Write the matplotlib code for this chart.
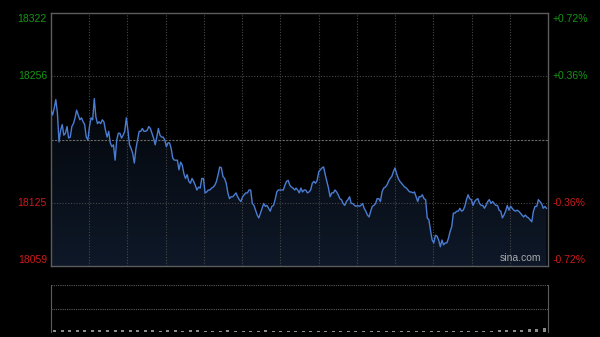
import numpy as np
import matplotlib
matplotlib.use("Agg")
import matplotlib.pyplot as plt
from matplotlib.patches import Polygon

# ---- data (index points) ----
prev_close = 18190.5
y_ticks = [18322, 18256, 18125, 18059]
y_labels = ["18322", "18256", "18125", "18059"]
pct_labels = ["+0.72%", "+0.36%", "-0.36%", "-0.72%"]
label_colors = ["#149614", "#149614", "#cc1a1a", "#cc1a1a"]

# time (minutes from open) at start/end of each read segment
seg_times = [(0.0, 83.0), (83.9, 161.8), (162.7, 243.5), (244.4, 329.0)]

seg1 = [18221, 18216, 18223, 18232, 18218, 18188, 18200, 18206, 18195, 18197,
        18204, 18192, 18193, 18204, 18207, 18213, 18221, 18216, 18211, 18213,
        18209, 18206, 18193, 18190, 18204, 18213, 18211, 18233, 18214, 18207,
        18209, 18207, 18211, 18209, 18200, 18193, 18199, 18187, 18183, 18185,
        18169, 18190, 18197, 18197, 18192, 18195, 18199, 18213, 18200, 18185,
        18181, 18176, 18166, 18181, 18190, 18199, 18199, 18202, 18199, 18199,
        18200, 18204, 18202, 18197, 18192, 18185, 18193, 18202, 18195, 18193,
        18193, 18190, 18183, 18187, 18187, 18181, 18171, 18169, 18169]
seg2 = [18169, 18159, 18167, 18164, 18155, 18150, 18154, 18147, 18145, 18150,
        18147, 18143, 18138, 18141, 18140, 18150, 18150, 18135, 18136, 18138,
        18138, 18140, 18141, 18143, 18147, 18154, 18162, 18161, 18152, 18150,
        18145, 18135, 18129, 18131, 18131, 18133, 18135, 18131, 18128, 18126,
        18131, 18133, 18135, 18135, 18138, 18138, 18124, 18122, 18117, 18112,
        18109, 18114, 18119, 18124, 18121, 18122, 18119, 18116, 18121, 18122,
        18128, 18136, 18138, 18138, 18138, 18138, 18143, 18147, 18148, 18143,
        18141, 18140, 18138]
seg3 = [18140, 18138, 18135, 18140, 18136, 18138, 18138, 18135, 18136, 18138,
        18145, 18147, 18145, 18148, 18157, 18159, 18161, 18162, 18154, 18147,
        18140, 18131, 18135, 18135, 18138, 18136, 18133, 18129, 18128, 18124,
        18122, 18126, 18128, 18131, 18124, 18124, 18122, 18121, 18122, 18121,
        18122, 18124, 18119, 18116, 18112, 18110, 18116, 18121, 18122, 18124,
        18129, 18129, 18126, 18136, 18140, 18141, 18143, 18147, 18150, 18152,
        18157, 18161, 18155, 18150, 18147, 18145, 18143, 18141, 18140, 18138,
        18136, 18136, 18135, 18136, 18131, 18126]
seg4 = [18131, 18131, 18133, 18129, 18128, 18109, 18107, 18096, 18086, 18083,
        18091, 18090, 18086, 18079, 18086, 18081, 18083, 18083, 18088, 18095,
        18100, 18114, 18114, 18116, 18116, 18119, 18116, 18117, 18121, 18128,
        18133, 18129, 18128, 18122, 18126, 18128, 18129, 18124, 18122, 18122,
        18119, 18122, 18126, 18128, 18124, 18126, 18124, 18122, 18122, 18117,
        18116, 18109, 18112, 18116, 18122, 18117, 18121, 18119, 18117, 18116,
        18117, 18116, 18114, 18112, 18110, 18112, 18110, 18109, 18107, 18105,
        18116, 18121, 18121, 18128, 18126, 18124, 18119, 18121, 18119]

volume = [3, 2, 3, 2, 2, 3, 2, 2, 3, 3, 2, 2, 2, 2, 1, 2, 2, 1, 2, 2,
          1, 1, 1, 2, 1, 1, 1, 1, 2, 1, 1, 1, 1, 1, 1, 1, 1, 1, 1, 1,
          1, 1, 1, 1, 1, 1, 1, 1, 1, 1, 1, 1, 1, 1, 1, 1, 1, 1, 1, 2,
          2, 3, 3, 4, 4, 5]

session_minutes = 330

# ---- build series ----
times, prices = [], []
for (t0, t1), seg in zip(seg_times, [seg1, seg2, seg3, seg4]):
    times.extend(np.linspace(t0, t1, len(seg)))
    prices.extend(seg)
times = np.array(times)
prices = np.array(prices, dtype=float)

BG = "#000000"
GRID = "#474747"
SPINE = "#5c5c5c"
FONT = ["Liberation Sans", "DejaVu Sans"]

fig = plt.figure(figsize=(6.0, 3.37), dpi=100, facecolor=BG)
L, R = 51 / 600, 548 / 600
ax = fig.add_axes([L, 1 - 266 / 337, R - L, (266 - 13) / 337])
ax.set_facecolor(BG)
ax.set_xlim(0, session_minutes)
ax.set_ylim(y_ticks[-1], y_ticks[0])

# gradient fill under line
grad = np.linspace(0, 1, 256).reshape(-1, 1)
img = ax.imshow(grad, extent=[0, session_minutes, y_ticks[-1], prices.max()],
                origin="upper", aspect="auto",
                cmap=matplotlib.colors.LinearSegmentedColormap.from_list(
                    "g", ["#04070b", "#0e1828"]), zorder=1)
poly_xy = np.vstack([np.column_stack([times, prices]),
                     [[times[-1], y_ticks[-1]], [times[0], y_ticks[-1]]]])
clip = Polygon(poly_xy, closed=True, transform=ax.transData, facecolor="none",
               edgecolor="none")
ax.add_patch(clip)
img.set_clip_path(clip)

# grid
for xv in np.linspace(0, session_minutes, 14)[1:-1]:
    ax.axvline(xv, color=GRID, lw=0.8, ls=(0, (1, 1.5)), zorder=2)
for yv in [y_ticks[1], y_ticks[2]]:
    ax.axhline(yv, color=GRID, lw=0.8, ls=(0, (1, 1.5)), zorder=2)
ax.axhline(prev_close, color="#6a6a6a", lw=0.8, ls=(0, (2, 1.2)), zorder=2)

ax.plot(times, prices, color="#4a7cd2", lw=1.0, zorder=3)

ax.set_xticks([])
ax.set_yticks([])
for s in ax.spines.values():
    s.set_color(SPINE)
    s.set_linewidth(1.0)

# axis labels
offsets = [-6, 0, 0, 6]
for yv, lab, pct, col, off in zip(y_ticks, y_labels, pct_labels, label_colors, offsets):
    ax.annotate(lab, xy=(0, yv), xycoords=("axes fraction", "data"),
                xytext=(-3, off * 0.72), textcoords="offset points",
                ha="right", va="center", color=col, fontsize=7.5,
                family=FONT)
    ax.annotate(pct, xy=(1, yv), xycoords=("axes fraction", "data"),
                xytext=(3, off * 0.72), textcoords="offset points",
                ha="left", va="center", color=col, fontsize=7.5,
                family=FONT)

ax.text(0.986, 0.012, "sina.com", transform=ax.transAxes, ha="right",
        va="bottom", color="#a8a8a8", fontsize=7.5, family=FONT, zorder=4)

# volume panel
vx = fig.add_axes([L, 1 - 332 / 337, R - L, (332 - 285) / 337])
vx.set_facecolor(BG)
vx.set_xlim(0, session_minutes)
vx.set_ylim(0, 60)
vt = np.linspace(0, session_minutes, len(volume) + 1)[:-1] + 2.5
vx.bar(vt, volume, width=2.0, color="#8a8a8a", zorder=3)
for yv in [60, 30]:
    vx.axhline(yv, color="#5a5a5a", lw=0.8, ls=(0, (1, 1)), zorder=2)
vx.axhline(0, color="#5a5a5a", lw=0.8, ls=(0, (1, 1)), zorder=2)
vx.set_xticks([])
vx.set_yticks([])
for k in ["top", "bottom"]:
    vx.spines[k].set_visible(False)
for k in ["left", "right"]:
    vx.spines[k].set_color(SPINE)

fig.savefig("out.png", dpi=100, facecolor=BG)
